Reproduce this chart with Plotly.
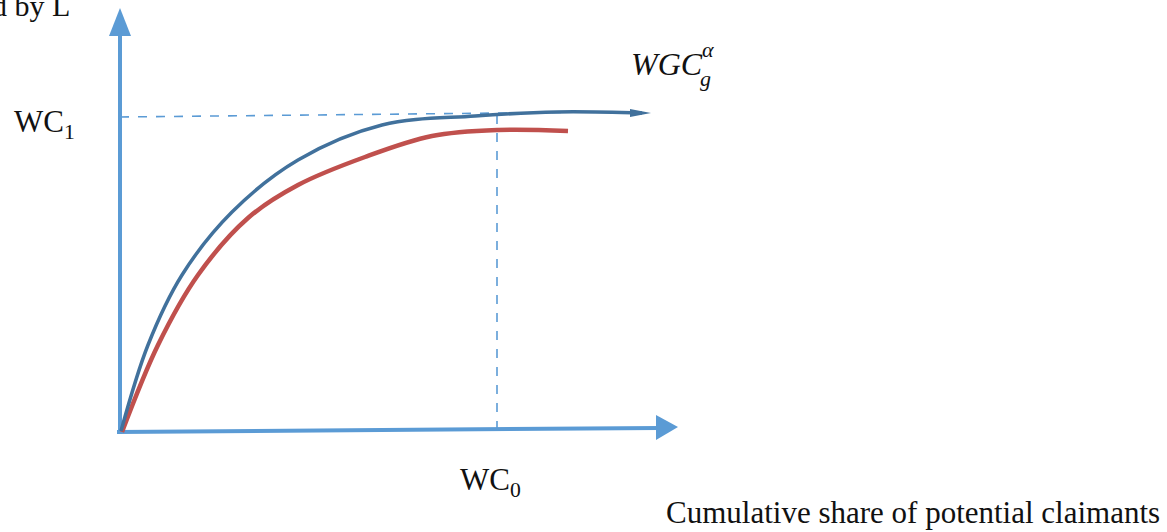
import plotly.graph_objects as go

# Canvas coordinates: x to the right, y downward (screen-like), 1167 x 532
W, H = 1167, 532

# Concentration curves (x, y in canvas units)
blue_x = [121, 148, 182, 232, 298, 382, 475, 557, 642]
blue_y = [431, 345, 275, 212, 160, 125, 116, 112, 113]

red_x = [122, 158, 198, 248, 298, 365, 432, 498, 568]
red_y = [432, 345, 275, 218, 185, 157, 136, 130, 131]

# Axes (origin and arrow tips)
y_axis_x = [120, 120]
y_axis_y = [434, 30]
x_axis_x = [117, 660]
x_axis_y = [432, 428]

# Arrowheads (triangles)
y_head_x = [109, 120, 131, 109]
y_head_y = [36, 8, 36, 36]
x_head_x = [656, 678, 656, 656]
x_head_y = [415, 427, 440, 415]
blue_head_x = [630, 651, 630, 630]
blue_head_y = [109, 113, 117, 109]

# Reference dashed lines
wc1_x = [120, 600]
wc1_y = [117, 112]
wc0_x = [497, 497]
wc0_y = [115, 428]

AXIS = "#5B9BD5"
BLUE = "#41719C"
RED = "#C0504D"

fig = go.Figure()

def line(x, y, color, width, dash="solid", smooth=True):
    fig.add_trace(go.Scatter(x=x, y=y, mode="lines", hoverinfo="skip",
                             line=dict(color=color, width=width, dash=dash,
                                       shape="spline" if smooth else "linear",
                                       smoothing=1.0)))

def tri(x, y, color):
    fig.add_trace(go.Scatter(x=x, y=y, mode="lines", fill="toself",
                             fillcolor=color, hoverinfo="skip",
                             line=dict(color=color, width=0)))

line(wc1_x, wc1_y, AXIS, 1.6, "dash", smooth=False)
line(wc0_x, wc0_y, AXIS, 1.6, "dash", smooth=False)
line(y_axis_x, y_axis_y, AXIS, 4, smooth=False)
line(x_axis_x, x_axis_y, AXIS, 4, smooth=False)
tri(y_head_x, y_head_y, AXIS)
tri(x_head_x, x_head_y, AXIS)
line(red_x, red_y, RED, 4.5)
line(blue_x, blue_y, BLUE, 3.5)
tri(blue_head_x, blue_head_y, BLUE)

SERIF = "Liberation Serif"
MATH = "Liberation Serif"

def label(x, y, text, size, xanchor="left", yanchor="middle", family=SERIF):
    fig.add_annotation(x=x, y=y, text=text, showarrow=False,
                       xanchor=xanchor, yanchor=yanchor,
                       font=dict(family=family, size=size, color="#111111"))

label(72, 5, "d by L", 30, xanchor="right")
label(12, 124, "WC<sub>1</sub>", 31)
label(458, 482, "WC<sub>0</sub>", 31)
label(1162, 512, "Cumulative share of potential claimants", 31, xanchor="right")
label(629, 64, "<i>WGC</i>", 32, family=MATH)
label(700, 49, "<i>α</i>", 22, family=MATH)
label(698, 78, "<i>g</i>", 22, family=MATH)

fig.update_layout(
    width=W, height=H, margin=dict(l=0, r=0, t=0, b=0),
    paper_bgcolor="white", plot_bgcolor="white", showlegend=False,
    xaxis=dict(range=[0, W], visible=False, fixedrange=True),
    yaxis=dict(range=[H, 0], visible=False, fixedrange=True),
)

fig.write_html("out.html")
